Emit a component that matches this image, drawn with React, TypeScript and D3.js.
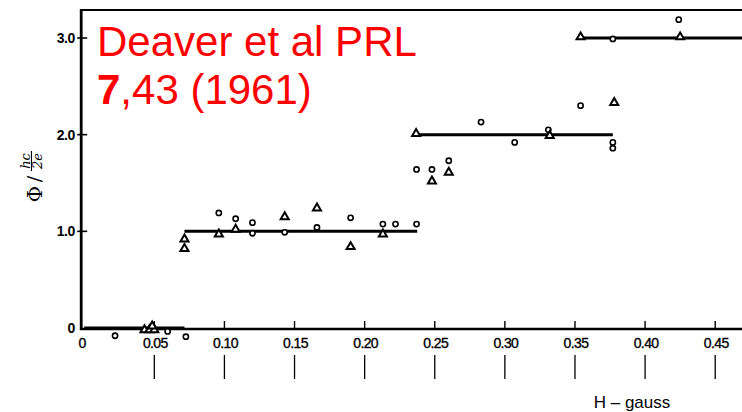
import React from "react";
import * as d3 from "d3";

const W = 742;
const H = 412;

// Circle data points (H in gauss, flux in units of hc/2e)
const circleH = [0.022, 0.0595, 0.0725, 0.096, 0.108, 0.12, 0.12, 0.143, 0.166, 0.19, 0.213, 0.222, 0.237, 0.237, 0.248, 0.26, 0.283, 0.307, 0.331, 0.377, 0.377, 0.354, 0.377, 0.424];
const circlePhi = [-0.08, -0.035, -0.09, 1.19, 1.13, 1.09, 0.98, 0.99, 1.04, 1.14, 1.075, 1.075, 1.075, 1.64, 1.64, 1.73, 2.13, 1.92, 2.05, 1.92, 1.86, 2.30, 2.99, 3.19];

// Triangle data points
const triH = [0.043, 0.0465, 0.05, 0.0485, 0.0715, 0.0715, 0.096, 0.108, 0.143, 0.166, 0.19, 0.213, 0.2367, 0.248, 0.26, 0.332, 0.354, 0.378, 0.425];
const triPhi = [-0.02, -0.02, -0.02, 0.02, 0.92, 0.82, 0.97, 1.02, 1.15, 1.24, 0.84, 0.97, 2.01, 1.52, 1.61, 1.99, 3.01, 2.33, 3.01];

// Quantized flux steps
const stepStart = [0, 0.0715, 0.2365, 0.3535];
const stepEnd = [0.0715, 0.2375, 0.377, 0.48];
const stepLevel = [0, 1, 2, 3];

// Axis ticks
const xTicks = [0, 0.05, 0.1, 0.15, 0.2, 0.25, 0.3, 0.35, 0.4, 0.45];
const xTickLabels = ["0", "0.05", "0.10", "0.15", "0.20", "0.25", "0.30", "0.35", "0.40", "0.45"];
const yTicks = [0, 1, 2, 3];
const yTickLabels = ["0", "1.0", "2.0", "3.0"];

export default function App() {
  const x = d3.scaleLinear().domain([0, 0.45]).range([84.2, 715.2]);
  const y = d3.scaleLinear().domain([0, 3]).range([328, 38]);
  const axisX = x(0) - 3;
  const axisY = y(0) + 1;
  const topY = 10;
  const tri = d3.symbol().type(d3.symbolTriangle).size(28)();

  return (
    <svg width={W} height={H} style={{ position: "absolute", left: 0, top: 0, background: "#fff" }}>
      <rect width={W} height={H} fill="#fff" />
      {/* frame */}
      <line x1={axisX} x2={W} y1={topY} y2={topY} stroke="#000" strokeWidth={2.2} />
      <line x1={axisX} x2={axisX} y1={topY - 1} y2={axisY + 1} stroke="#000" strokeWidth={2.8} />
      <line x1={axisX - 1} x2={W} y1={axisY} y2={axisY} stroke="#000" strokeWidth={2.4} />

      {/* y ticks */}
      {yTicks.map((t, i) => (
        <g key={"yt" + i}>
          {t > 0 && <line x1={axisX - 4} x2={axisX + 6} y1={y(t)} y2={y(t)} stroke="#000" strokeWidth={1.6} />}
          <text x={75} y={y(t) + 5} textAnchor="end" fontFamily="Liberation Sans, Arial, sans-serif" fontWeight="bold" fontSize={14} fill="#000" letterSpacing={-0.4}>
            {yTickLabels[i]}
          </text>
        </g>
      ))}

      {/* x ticks */}
      {xTicks.map((t, i) => (
        <g key={"xt" + i}>
          {t > 0 && <line x1={x(t)} x2={x(t)} y1={axisY - 8} y2={axisY} stroke="#000" strokeWidth={1.4} />}
          {t > 0 && <line x1={x(t)} x2={x(t)} y1={355} y2={379} stroke="#000" strokeWidth={1.3} />}
          <text x={t === 0 ? x(t) - 2 : x(t) + 1} y={348} textAnchor="middle" fontFamily="Liberation Sans, Arial, sans-serif" fontSize={14} fill="#000" letterSpacing={-0.6} stroke="#000" strokeWidth={0.35}>
            {xTickLabels[i]}
          </text>
        </g>
      ))}

      {/* step lines */}
      {stepLevel.map((lv, i) => (
        <line key={"s" + i} x1={x(stepStart[i])} x2={x(stepEnd[i])} y1={y(lv)} y2={y(lv)} stroke="#000" strokeWidth={3} />
      ))}

      {/* circles */}
      {circleH.map((h, i) => (
        <circle key={"c" + i} cx={x(h)} cy={y(circlePhi[i])} r={2.6} fill="#fff" stroke="#000" strokeWidth={1.6} />
      ))}

      {/* triangles */}
      {triH.map((h, i) => (
        <path key={"t" + i} d={tri || ""} transform={`translate(${x(h)},${y(triPhi[i])})`} fill="#fff" stroke="#000" strokeWidth={2} />
      ))}

      {/* x label */}
      <text x={632} y={408} textAnchor="middle" fontFamily="Liberation Sans, Arial, sans-serif" fontSize={17} fill="#000">
        H – gauss
      </text>

      {/* y label */}
      <g transform="translate(36,175) rotate(-90)" fontFamily="DejaVu Serif, serif" fill="#000">
        <text x={-19} y={6} textAnchor="middle" fontSize={20}>Φ</text>
        <text x={-4} y={5} textAnchor="middle" fontSize={19}>/</text>
        <text x={14} y={-6} textAnchor="middle" fontSize={13} fontStyle="italic">hc</text>
        <line x1={4} x2={24} y1={-4.5} y2={-4.5} stroke="#000" strokeWidth={1.1} />
        <text x={14} y={6} textAnchor="middle" fontSize={13} fontStyle="italic">2e</text>
      </g>

      {/* red annotation */}
      <text x={97} y={56} fontFamily="Liberation Sans, Arial, sans-serif" fontSize={42} fill="#ff0000">
        Deaver et al PRL
      </text>
      <text x={97} y={104} fontFamily="Liberation Sans, Arial, sans-serif" fontSize={42} fill="#ff0000">
        <tspan fontWeight="bold">7</tspan>,43 (1961)
      </text>
    </svg>
  );
}
